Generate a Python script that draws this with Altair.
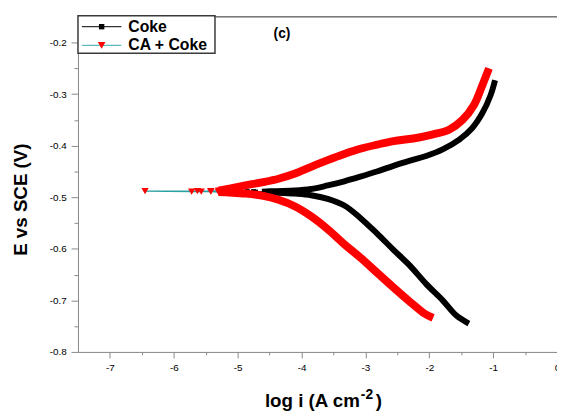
import altair as alt
import pandas as pd

# Coke (black squares)
coke_cath_logi = [-1.38, -1.58, -1.79, -2.05, -2.30, -2.56, -2.82, -3.08, -3.33, -3.59, -3.85, -4.10, -4.40, -4.62]
coke_cath_E = [-0.745, -0.729, -0.700, -0.668, -0.633, -0.602, -0.570, -0.540, -0.516, -0.503, -0.496, -0.493, -0.491, -0.490]
coke_ecorr_logi = [-4.72, -4.85, -4.75]
coke_ecorr_E = [-0.490, -0.489, -0.489]
coke_anod_logi = [-4.62, -4.40, -4.10, -3.85, -3.59, -3.33, -3.08, -2.82, -2.56, -2.30, -2.05, -1.79, -1.53, -1.33, -1.17, -1.04, -0.97]
coke_anod_E = [-0.489, -0.488, -0.487, -0.484, -0.477, -0.469, -0.460, -0.450, -0.439, -0.429, -0.420, -0.407, -0.388, -0.366, -0.337, -0.302, -0.273]

# CA + Coke (red down-triangles)
ca_cath_logi = [-1.94, -2.07, -2.30, -2.56, -2.82, -3.08, -3.33, -3.59, -3.85, -4.10, -4.36, -4.62, -4.88, -5.13, -5.30]
ca_cath_E = [-0.734, -0.726, -0.703, -0.675, -0.646, -0.617, -0.591, -0.562, -0.537, -0.518, -0.505, -0.497, -0.493, -0.491, -0.490]
ca_ecorr_logi = [-5.42, -5.57, -5.72, -6.45, -5.63, -5.42]
ca_ecorr_E = [-0.489, -0.489, -0.489, -0.488, -0.488, -0.488]
ca_anod_logi = [-5.30, -5.13, -4.88, -4.62, -4.36, -4.10, -3.85, -3.59, -3.33, -3.08, -2.82, -2.56, -2.25, -1.94, -1.69, -1.48, -1.30, -1.17, -1.065]
ca_anod_E = [-0.487, -0.483, -0.477, -0.471, -0.464, -0.454, -0.441, -0.428, -0.416, -0.406, -0.398, -0.391, -0.386, -0.378, -0.369, -0.350, -0.321, -0.283, -0.250]

series_names = ["Coke", "CA + Coke"]
x_ticks = [-7, -6.5, -6, -5.5, -5, -4.5, -4, -3.5, -3, -2.5, -2, -1.5, -1, -0.5, 0]
y_ticks = [-0.8, -0.75, -0.7, -0.65, -0.6, -0.55, -0.5, -0.45, -0.4, -0.35, -0.3, -0.25, -0.2]

rows = []
def add(series, parts):
    seq = 0
    for branch, xs, ys in parts:
        for xv, yv in zip(xs, ys):
            rows.append({"series": series, "branch": branch, "seq": seq, "logi": xv, "E": yv})
            seq += 1

add(series_names[0], [("cath", coke_cath_logi, coke_cath_E),
                      ("ecorr", coke_ecorr_logi, coke_ecorr_E),
                      ("anod", coke_anod_logi, coke_anod_E)])
add(series_names[1], [("cath", ca_cath_logi, ca_cath_E),
                      ("ecorr", ca_ecorr_logi, ca_ecorr_E),
                      ("anod", ca_anod_logi, ca_anod_E)])
df = pd.DataFrame(rows)

W, H = 486, 340
FONT = "Liberation Sans"
TICKFONT = "DejaVu Sans"
AX = "#7a7a7a"
LAB = "#1a1a4d"

x_enc = alt.X("logi:Q", scale=alt.Scale(domain=[-7.5, 0], nice=False, zero=False),
              axis=alt.Axis(values=x_ticks, title=None, grid=False,
                            labelExpr="datum.value % 1 == 0 ? (datum.value < 0 ? '-' : '') + format(abs(datum.value), 'd') : ''",
                            tickSize={"condition": {"test": "datum.value % 1 != 0", "value": 3}, "value": 6},
                            labelPadding=5, labelFlush=False, labelOverlap=False))
y_enc = alt.Y("E:Q", scale=alt.Scale(domain=[-0.8, -0.15], nice=False, zero=False),
              axis=alt.Axis(values=y_ticks, title="E vs SCE (V)", grid=False,
                            labelExpr="abs(datum.value*10 - round(datum.value*10)) < 0.001 ? (datum.value < 0 ? '-' : '') + format(abs(datum.value), '.1f') : ''",
                            tickSize={"condition": {"test": "abs(datum.value*10 - round(datum.value*10)) > 0.001", "value": 4}, "value": 7},
                            labelPadding=5, labelFlush=False, labelOverlap=False,
                            titleX=-52, titleY=185, titleBaseline="alphabetic",
                            titleFontSize=19, titleFontWeight="bold", titleColor="black", titleFont=FONT))

base = alt.Chart(df)

def thin(series, color):
    return base.transform_filter(alt.datum.series == series).mark_line(
        color=color, strokeWidth=1.3).encode(x=x_enc, y=y_enc, order="seq:Q")

def thick(series, color, w):
    return base.transform_filter(
        (alt.datum.series == series) & (alt.datum.branch != "ecorr")
    ).mark_line(color=color, strokeWidth=w, strokeJoin="round", interpolate="catmull-rom").encode(
        x=x_enc, y=y_enc, detail="branch:N", order="seq:Q")

def pts(series, color, shape, size, branch_filter):
    return base.transform_filter((alt.datum.series == series) & branch_filter).mark_point(
        shape=shape, filled=True, size=size, color=color, opacity=1).encode(x=x_enc, y=y_enc)

one = alt.Chart(pd.DataFrame({"k": [0]}))

frame_top = one.mark_rule(color=AX, strokeWidth=1.5).encode(x=alt.value(0), x2=alt.value(W), y=alt.value(0))

legend_box = one.mark_rect(fill="white", stroke="#3a3a3a", strokeWidth=1.5).encode(
    x=alt.value(0), x2=alt.value(139), y=alt.value(-1), y2=alt.value(37))
leg_l1 = one.mark_rule(color="#333333", strokeWidth=1.3).encode(x=alt.value(4), x2=alt.value(44), y=alt.value(10))
leg_p1 = one.mark_point(shape="square", filled=True, size=30, color="black", opacity=1).encode(x=alt.value(24), y=alt.value(10))
leg_l2 = one.mark_rule(color="#5fbcbc", strokeWidth=1.3).encode(x=alt.value(4), x2=alt.value(44), y=alt.value(29))
leg_p2 = one.mark_point(shape="triangle-down", filled=True, size=60, color="#ff0000", opacity=1).encode(x=alt.value(24), y=alt.value(29))
leg_t1 = one.mark_text(text=series_names[0], align="left", baseline="alphabetic", font=FONT, fontSize=16,
                       fontWeight="bold", color="black").encode(x=alt.value(51), y=alt.value(15.5))
leg_t2 = one.mark_text(text=series_names[1], align="left", baseline="alphabetic", font=FONT, fontSize=16,
                       fontWeight="bold", color="black").encode(x=alt.value(51), y=alt.value(34))
panel = one.mark_text(text="(c)", align="center", baseline="alphabetic", font=FONT, fontSize=14,
                      fontWeight="bold", color="black").encode(x=alt.value(207), y=alt.value(21))

xt1 = one.mark_text(text="log i (A cm", align="right", baseline="alphabetic", font=FONT, fontSize=19,
                    fontWeight="bold", color="black").encode(x=alt.value(286), y=alt.value(396))
xt2 = one.mark_text(text="-2", align="left", baseline="alphabetic", font=FONT, fontSize=14,
                    fontWeight="bold", color="black").encode(x=alt.value(287), y=alt.value(388))
xt3 = one.mark_text(text=")", align="left", baseline="alphabetic", font=FONT, fontSize=19,
                    fontWeight="bold", color="black").encode(x=alt.value(302), y=alt.value(396))

chart = alt.layer(
    thin(series_names[0], "#333333"),
    thick(series_names[0], "black", 6),
    pts(series_names[0], "black", "square", 25, alt.datum.branch == "ecorr"),
    thin(series_names[1], "#2aa0a0"),
    thick(series_names[1], "#ff0000", 8),
    pts(series_names[1], "#ff0000", "triangle-down", 55, alt.datum.logi < -4.5),
    frame_top,
    legend_box, leg_l1, leg_p1, leg_l2, leg_p2, leg_t1, leg_t2, panel,
    xt1, xt2, xt3,
).properties(
    width=W, height=H,
    padding={"left": 71, "top": 6, "right": 0, "bottom": 59},
    autosize=alt.AutoSizeParams(type="none"),
).configure_view(stroke=None).configure_axis(
    domainColor=AX, domainWidth=1.5, tickColor=AX, tickWidth=1.5,
    labelFont=TICKFONT, labelFontSize=11, labelColor=LAB,
).configure(background="white")

chart.save("out.html", embed_options={"renderer": "svg", "actions": False})
